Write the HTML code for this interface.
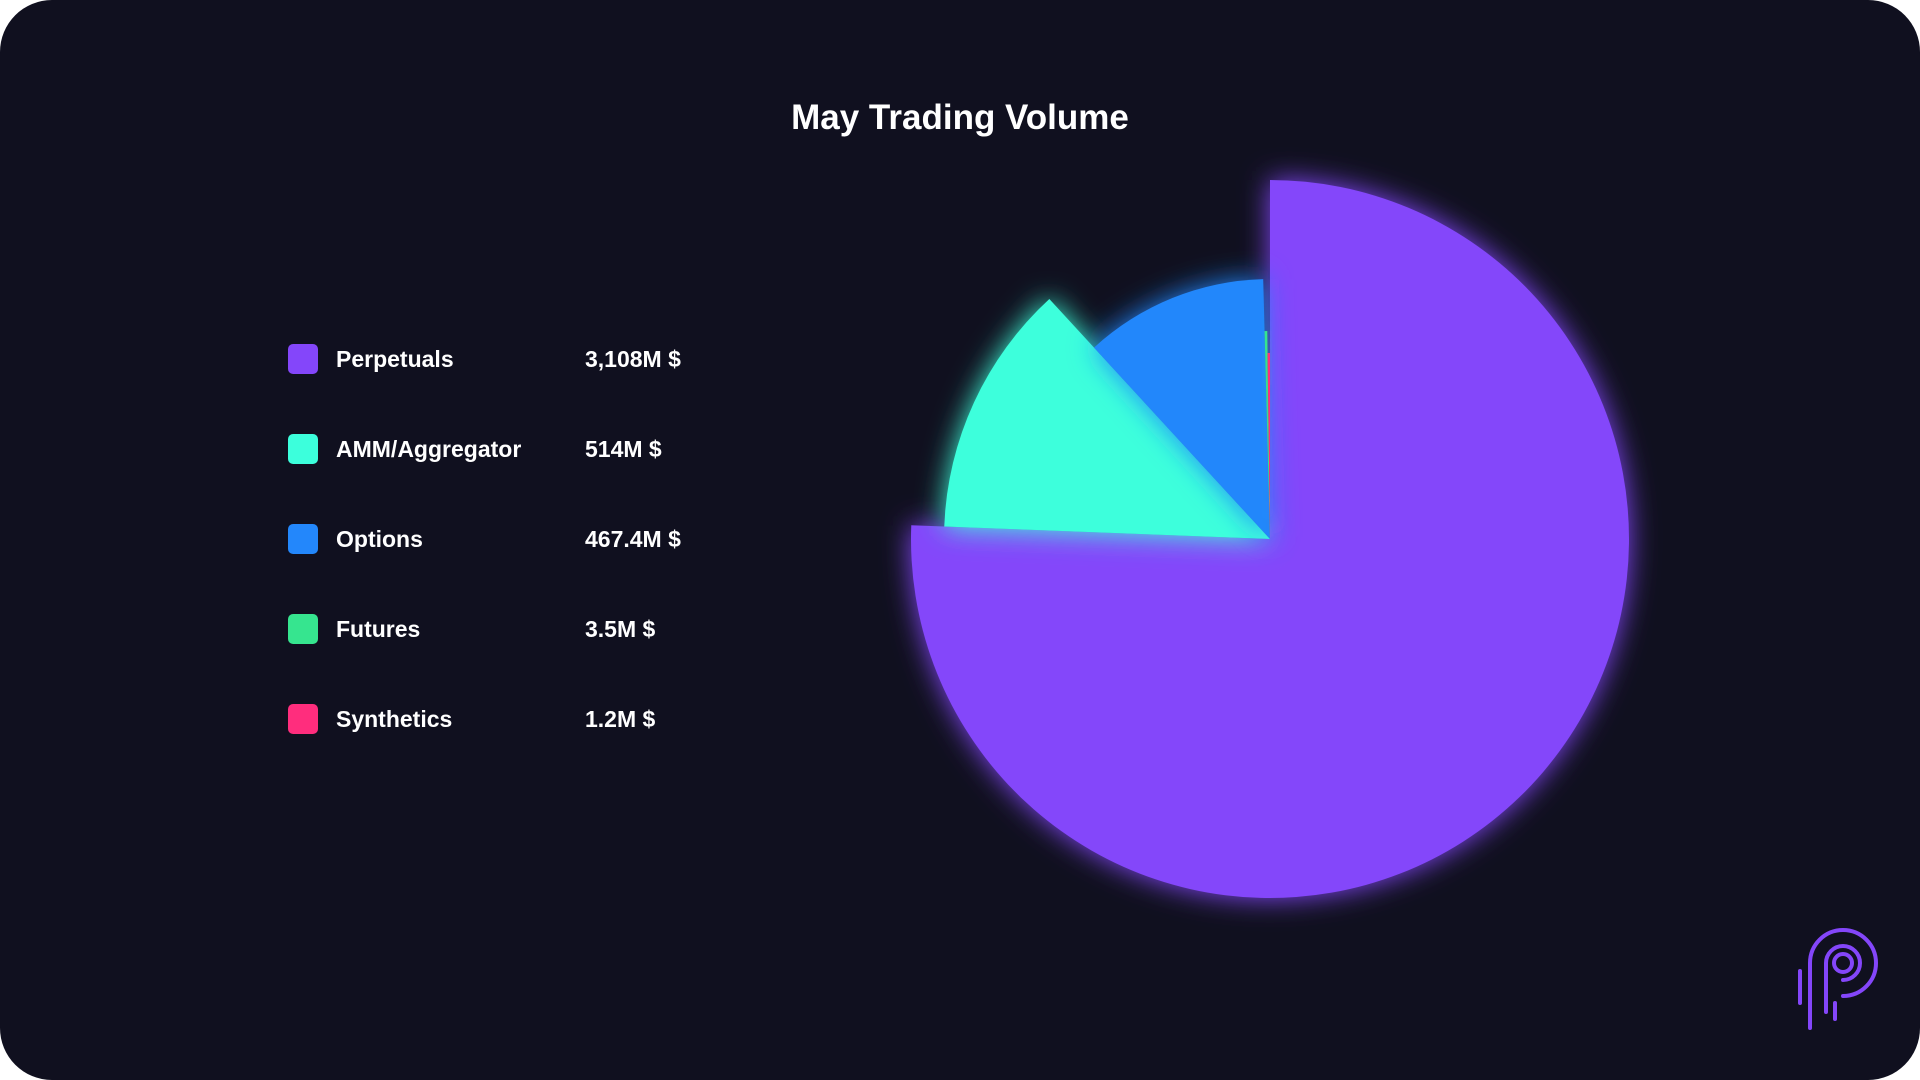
<!DOCTYPE html>
<html><head><meta charset="utf-8"><style>
html,body{margin:0;padding:0;background:#fff;}
#card{position:absolute;left:0;top:0;width:1920px;height:1080px;background:#10101f;border-radius:52px;overflow:hidden;font-family:"Liberation Sans",sans-serif;color:#fff;}
#title{position:absolute;left:0;width:1920px;top:98px;text-align:center;font-size:35px;font-weight:bold;}
.row{position:absolute;left:288px;height:30px;}
.sw{position:absolute;left:0;top:0;width:30px;height:30px;border-radius:5px;}
.lb{position:absolute;left:48px;top:1px;font-size:23px;font-weight:bold;white-space:nowrap;line-height:28px;}
.vl{position:absolute;left:297px;top:1px;font-size:23px;font-weight:bold;white-space:nowrap;line-height:28px;}
svg{position:absolute;left:0;top:0;}
</style></head><body>
<div id="card">
<div id="title">May Trading Volume</div>
<div id="legend"></div>
<svg id="pie" width="1920" height="1080">
<defs><filter id="glow" x="-30%" y="-30%" width="160%" height="160%"><feGaussianBlur in="SourceGraphic" stdDeviation="14" result="b"/><feMerge><feMergeNode in="b"/><feMergeNode in="SourceGraphic"/></feMerge></filter></defs>
<g id="slices"></g>
</svg>
<svg width="1920" height="1080">
<g fill="none" stroke="#8446fa" stroke-width="4" stroke-linecap="round">
<circle cx="1843" cy="963" r="9"/>
<path d="M1826 1012 L1826 963 A17 17 0 1 1 1843 980"/>
<path d="M1810 1028 L1810 963 A33 33 0 1 1 1843 996"/>
<path d="M1800 971 L1800 1003"/>
<path d="M1835 1003 L1835 1019"/>
</g>
</svg>
</div>
<script>
const categories=["Perpetuals","AMM/Aggregator","Options","Futures","Synthetics"];
const values=[3108,514,467.4,3.5,1.2];
const valueLabels=["3,108M $","514M $","467.4M $","3.5M $","1.2M $"];
const colors=["#8446fa","#3cffdc","#2387fb","#36e58f","#ff2d7d"];
const radii=[359,326,260,208,186];
const minDeg=0.75;
const cx=1270,cy=539;
const total=values.reduce((a,b)=>a+b,0);
let degs=values.map(v=>v/total*360);
let extra=0;
degs=degs.map(d=>{if(d<minDeg){extra+=minDeg-d;return minDeg;}return d;});
degs[0]-=extra;
const g=document.getElementById('slices');
const ns="http://www.w3.org/2000/svg";
function pt(r,a){return [cx+r*Math.sin(a),cy-r*Math.cos(a)];}
let a0=0;
values.forEach((v,i)=>{
  const a1=a0+degs[i]*Math.PI/180;
  const r=radii[i];
  const p0=pt(r,a0),p1=pt(r,a1);
  const large=(a1-a0)>Math.PI?1:0;
  const p=document.createElementNS(ns,'path');
  p.setAttribute('d',`M${cx} ${cy} L${p0[0]} ${p0[1]} A${r} ${r} 0 ${large} 1 ${p1[0]} ${p1[1]} Z`);
  p.setAttribute('fill',colors[i]);
  p.setAttribute('filter','url(#glow)');
  
  
  g.appendChild(p);
  a0=a1;
});
const lg=document.getElementById('legend');
categories.forEach((c,i)=>{
  const row=document.createElement('div');
  row.className='row';row.style.top=(344+i*90)+'px';
  
  
  row.innerHTML=`<div class="sw" style="background:${colors[i]}"></div><div class="lb">${c}</div><div class="vl">${valueLabels[i]}</div>`;
  lg.appendChild(row);
});
</script>
</body></html>
